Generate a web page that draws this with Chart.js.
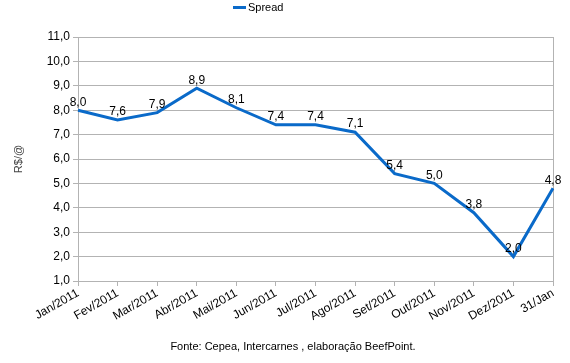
<!DOCTYPE html>
<html><head><meta charset="utf-8">
<script src="https://cdn.jsdelivr.net/npm/chart.js@4/dist/chart.umd.min.js"></script>
<style>html,body{margin:0;padding:0;background:#fff}#wrap{width:570px;height:363px}</style>
</head><body><div id="wrap"><canvas id="c" width="570" height="363"></canvas></div>
<script>
const categories = ["Jan/2011","Fev/2011","Mar/2011","Abr/2011","Mai/2011","Jun/2011","Jul/2011","Ago/2011","Set/2011","Out/2011","Nov/2011","Dez/2011","31/Jan"];
const spread = [8.0, 7.6, 7.9, 8.9, 8.1, 7.4, 7.4, 7.1, 5.4, 5.0, 3.8, 2.0, 4.8];
const seriesName = "Spread";
const yTitle = "R$/@";
const footer = "Fonte: Cepea, Intercarnes , elaboração BeefPoint.";
const FONT = "'Liberation Sans', Arial, sans-serif";
const BLUE = "#0a6ac9";
const GRID = "#b3b3b3";
const fmt = v => v.toFixed(1).replace('.', ',');

const extras = {
  id: 'extras',
  afterDatasetsDraw(chart) {
    const ctx = chart.ctx;
    const meta = chart.getDatasetMeta(0);
    ctx.save();
    ctx.font = "12px " + FONT;
    ctx.fillStyle = "#000";
    ctx.textAlign = "center";
    ctx.textBaseline = "middle";
    meta.data.forEach((pt, i) => {
      ctx.fillText(fmt(spread[i]), pt.x, pt.y - 8);
    });
    ctx.restore();
  },
  afterDraw(chart) {
    const ctx = chart.ctx;
    ctx.save();
    ctx.strokeStyle = BLUE; ctx.lineWidth = 3;
    ctx.beginPath(); ctx.moveTo(233, 7.5); ctx.lineTo(246, 7.5); ctx.stroke();
    ctx.font = "11px " + FONT; ctx.fillStyle = "#000";
    ctx.textAlign = "left"; ctx.textBaseline = "middle";
    ctx.fillText(seriesName, 248, 8);
    ctx.textAlign = "center";
    ctx.fillText(footer, 293, 347);
    ctx.restore();
  }
};

new Chart(document.getElementById('c'), {
  type: 'line',
  data: {
    labels: categories,
    datasets: [{
      label: seriesName,
      data: spread,
      borderColor: BLUE,
      backgroundColor: BLUE,
      borderWidth: 3,
      pointRadius: 0,
      tension: 0
    }]
  },
  options: {
    responsive: false,
    animation: false,
    devicePixelRatio: 1,
    layout: { padding: { left: 0, right: 17, top: 37, bottom: 0 } },
    plugins: { legend: { display: false }, tooltip: { enabled: false } },
    scales: {
      x: {
        offset: false,
        grid: {
          drawOnChartArea: true,
          color: c => c.index === categories.length - 1 ? GRID : 'rgba(0,0,0,0)',
          tickColor: GRID,
          tickLength: 5
        },
        border: { display: true, color: GRID },
        ticks: { color: "#000", font: { family: FONT, size: 12 }, minRotation: 30, maxRotation: 30, autoSkip: false, padding: 0 },
        afterFit: s => { s.height = 363 - 37 - 244; s.paddingLeft = 0; s.paddingRight = 0; }
      },
      y: {
        min: 1, max: 11,
        ticks: { stepSize: 1, color: "#000", font: { family: FONT, size: 12 }, callback: v => fmt(v), padding: 3 },
        grid: { color: GRID, tickLength: 5 },
        border: { display: true, color: GRID },
        title: { display: true, text: yTitle, color: "#444", font: { family: FONT, size: 11 }, padding: { top: 12, bottom: 0 } },
        afterFit: s => { s.width = 78; s.paddingTop = 0; s.paddingBottom = 0; }
      }
    }
  },
  plugins: [extras]
});
</script></body></html>
